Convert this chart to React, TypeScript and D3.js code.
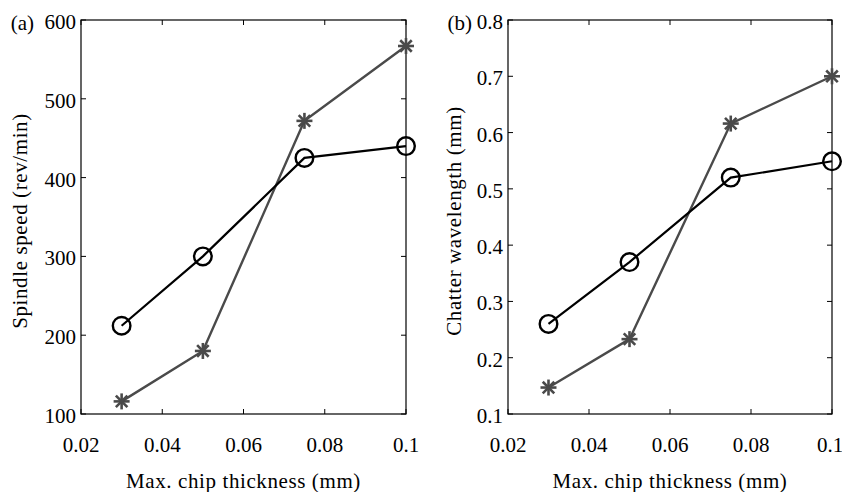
import React from "react";
import * as d3 from "d3";

const thickness = [0.03, 0.05, 0.075, 0.1];
const speedCircle = [212, 300, 425, 440];
const speedStar = [116, 180, 472, 567];
const waveCircle = [0.26, 0.37, 0.52, 0.549];
const waveStar = [0.147, 0.233, 0.616, 0.70];
const xTicks = [0.02, 0.04, 0.06, 0.08, 0.1];
const yTicksA = [100, 200, 300, 400, 500, 600];
const yTicksB = [0.1, 0.2, 0.3, 0.4, 0.5, 0.6, 0.7, 0.8];

const W = 842;
const H = 492;
const FONT = "'Liberation Serif', 'Times New Roman', serif";
const FS = 21;

type PanelProps = {
  left: number;
  right: number;
  top: number;
  bottom: number;
  yDomain: [number, number];
  yTicks: number[];
  yFmt: (v: number) => string;
  circles: number[];
  stars: number[];
  yLabel: string;
  yLabelX: number;
  tag: string;
  tagX: number;
};

function Star({ x, y, r, color }: { x: number; y: number; r: number; color: string }) {
  const d = r * 0.72;
  return (
    <g stroke={color} strokeWidth={2.6} strokeLinecap="butt">
      <line x1={x - r} y1={y} x2={x + r} y2={y} />
      <line x1={x} y1={y - r} x2={x} y2={y + r} />
      <line x1={x - d} y1={y - d} x2={x + d} y2={y + d} />
      <line x1={x - d} y1={y + d} x2={x + d} y2={y - d} />
    </g>
  );
}

function Panel(p: PanelProps) {
  const x = d3.scaleLinear().domain([0.02, 0.1]).range([p.left, p.right]);
  const y = d3.scaleLinear().domain(p.yDomain).range([p.bottom, p.top]);
  const line = d3
    .line<number>()
    .x((_, i) => x(thickness[i]))
    .y((d) => y(d));
  const tl = 5;
  const gray = "#4a4a4a";
  const xFmt = (v: number) => (v === 0.1 ? "0.1" : d3.format(".2f")(v));
  return (
    <g>
      <rect
        x={p.left}
        y={p.top}
        width={p.right - p.left}
        height={p.bottom - p.top}
        fill="none"
        stroke="#000"
        strokeWidth={1.2}
      />
      {xTicks.map((t) => (
        <g key={"x" + t}>
          <line x1={x(t)} x2={x(t)} y1={p.bottom} y2={p.bottom - tl} stroke="#000" />
          <line x1={x(t)} x2={x(t)} y1={p.top} y2={p.top + tl} stroke="#000" />
          <text
            x={Math.min(x(t), W - 12)}
            y={452}
            textAnchor="middle"
            fontFamily={FONT}
            fontSize={FS}
            fill="#000"
          >
            {xFmt(t)}
          </text>
        </g>
      ))}
      {p.yTicks.map((t) => (
        <g key={"y" + t}>
          <line x1={p.left} x2={p.left + tl} y1={y(t)} y2={y(t)} stroke="#000" />
          <line x1={p.right} x2={p.right - tl} y1={y(t)} y2={y(t)} stroke="#000" />
          <text
            x={p.left - 5}
            y={y(t) + 9}
            textAnchor="end"
            fontFamily={FONT}
            fontSize={FS}
            fill="#000"
          >
            {p.yFmt(t)}
          </text>
        </g>
      ))}
      <text
        x={(p.left + p.right) / 2}
        y={488}
        textAnchor="middle"
        fontFamily={FONT}
        fontSize={FS}
        letterSpacing={0.6}
        fill="#000"
      >
        Max. chip thickness (mm)
      </text>
      <text
        transform={`translate(${p.yLabelX},${(p.top + p.bottom) / 2 + 4}) rotate(-90)`}
        textAnchor="middle"
        fontFamily={FONT}
        fontSize={FS}
        letterSpacing={0.6}
        fill="#000"
      >
        {p.yLabel}
      </text>
      <text
        x={p.tagX}
        y={p.top + 10}
        textAnchor="end"
        fontFamily={FONT}
        fontSize={FS}
        fill="#000"
      >
        {p.tag}
      </text>
      <path d={line(p.stars) || ""} fill="none" stroke={gray} strokeWidth={2.4} />
      {p.stars.map((v, i) => (
        <Star key={"s" + i} x={x(thickness[i])} y={y(v)} r={8} color={gray} />
      ))}
      <path d={line(p.circles) || ""} fill="none" stroke="#000" strokeWidth={2.2} />
      {p.circles.map((v, i) => (
        <circle
          key={"c" + i}
          cx={x(thickness[i])}
          cy={y(v)}
          r={8.8}
          fill="none"
          stroke="#000"
          strokeWidth={2.4}
        />
      ))}
    </g>
  );
}

export default function App() {
  return (
    <svg
      width={W}
      height={H}
      style={{ position: "absolute", left: 0, top: 0, background: "#fff" }}
    >
      <rect width={W} height={H} fill="#fff" />
      <Panel
        left={81}
        right={406}
        top={20}
        bottom={414}
        yDomain={[100, 600]}
        yTicks={yTicksA}
        yFmt={(v) => String(v)}
        circles={speedCircle}
        stars={speedStar}
        yLabel="Spindle speed (rev/min)"
        yLabelX={27}
        tag="(a)"
        tagX={34}
      />
      <Panel
        left={508}
        right={832}
        top={20}
        bottom={414}
        yDomain={[0.1, 0.8]}
        yTicks={yTicksB}
        yFmt={(v) => d3.format(".1f")(v)}
        circles={waveCircle}
        stars={waveStar}
        yLabel="Chatter wavelength (mm)"
        yLabelX={461}
        tag="(b)"
        tagX={472}
      />
    </svg>
  );
}
